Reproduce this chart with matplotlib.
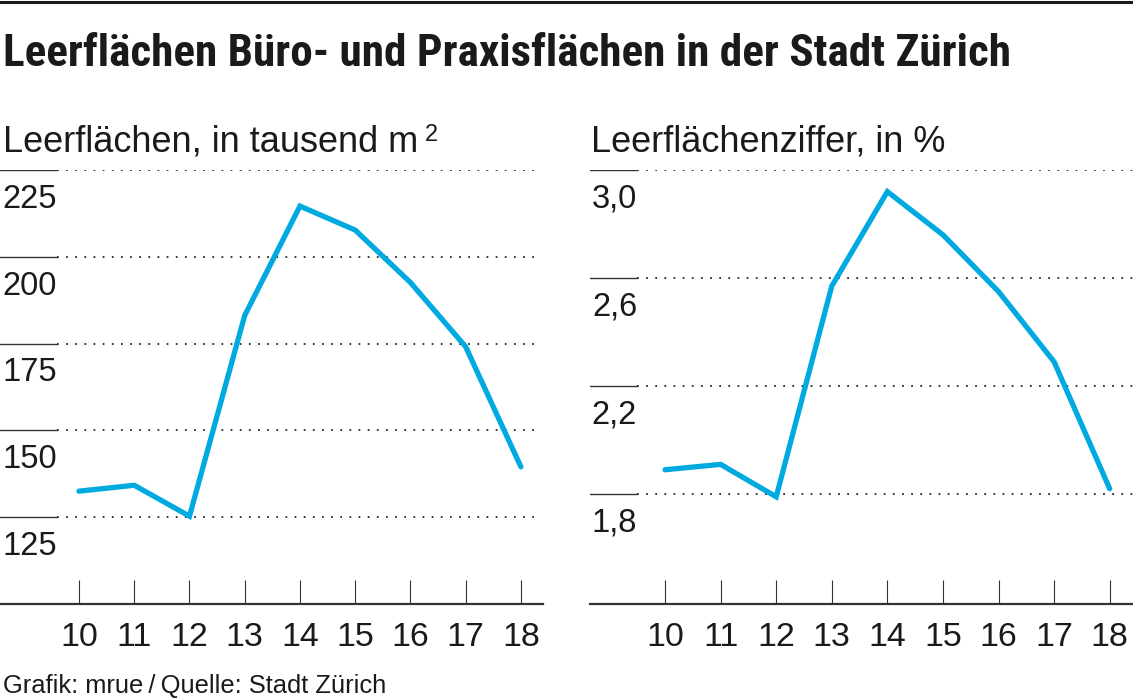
import matplotlib
matplotlib.use('Agg')
import matplotlib.pyplot as plt
from matplotlib import font_manager

# data
years = [2010, 2011, 2012, 2013, 2014, 2015, 2016, 2017, 2018]
year_labels = ['10', '11', '12', '13', '14', '15', '16', '17', '18']
leerflaechen = [132.5, 134.2, 125.3, 183.1, 214.6, 207.7, 192.6, 174.1, 139.5]  # tausend m2
ziffer = [1.89, 1.91, 1.79, 2.57, 2.92, 2.76, 2.55, 2.29, 1.82]  # in %

left_ticks = [225, 200, 175, 150, 125]
left_ticklabels = ['225', '200', '175', '150', '125']
right_ticks = [3.0, 2.6, 2.2, 1.8]
right_ticklabels = ['3,0', '2,6', '2,2', '1,8']

BLUE = '#00A9E0'
INK = '#1a1a1a'

fonts = font_manager.fontManager.ttflist
names = {f.name for f in fonts}
bold_names = {f.name for f in fonts if isinstance(f.weight, int) and f.weight >= 700}
body_font = 'Liberation Sans' if 'Liberation Sans' in names else 'DejaVu Sans'
# condensed bold family for the title, first one that has a real bold face
narrow_pref = ['Liberation Sans Narrow', 'Arial Narrow', 'Nimbus Sans Narrow', 'Archivo Narrow',
               'Roboto Condensed', 'PT Sans Narrow', 'Fira Sans Condensed', 'Barlow Condensed',
               'IBM Plex Sans Condensed', 'Encode Sans Condensed', 'Sofia Sans Condensed',
               'Saira SemiCondensed']
title_font = next((n for n in narrow_pref if n in bold_names), body_font)
plt.rcParams['font.family'] = [body_font, 'DejaVu Sans']

W, H = 1133, 700
fig = plt.figure(figsize=(W / 100, H / 100), dpi=100)


def px_axes(x0, x1, ytop, ybot):
    return fig.add_axes([x0 / W, (H - ybot) / H, (x1 - x0) / W, (ybot - ytop) / H])


def fy(y):
    # pixel row from the top -> figure fraction
    return 1 - y / H


def style_panel(ax, ticks, ticklabels, solid_end, dot_end, xlim, ylim, data):
    ax.set_xlim(*xlim)
    ax.set_ylim(*ylim)
    for s in ['top', 'right', 'left']:
        ax.spines[s].set_visible(False)
    ax.spines['bottom'].set_linewidth(1.6)
    ax.spines['bottom'].set_color('#333333')
    ax.set_yticks([])
    ax.set_xticks(years)
    ax.set_xticklabels(year_labels, fontsize=24.5, color=INK)
    ax.tick_params(axis='x', direction='in', length=17, width=0.8, color='#333333', pad=13)
    for t, lab in zip(ticks, ticklabels):
        ax.axhline(t, xmin=0, xmax=solid_end, color='#333333', lw=1.0)
        ax.axhline(t, xmin=solid_end, xmax=dot_end, color='#333333', lw=1.4,
                   linestyle=(0, (0.9, 3.8)), dash_capstyle='butt')
        ax.annotate(lab, xy=(solid_end, t), xycoords=('axes fraction', 'data'),
                    xytext=(0, -10), textcoords='offset points',
                    ha='right', va='top', fontsize=23.5, color=INK)
    ax.plot(years, data, color=BLUE, lw=3.8, solid_capstyle='round',
            solid_joinstyle='miter', clip_on=False, zorder=5)


ax1 = px_axes(0, 543, 170, 604)
style_panel(ax1, left_ticks, left_ticklabels, 57 / 543, 536 / 543,
            (2008.57, 2018.40), (100, 225), leerflaechen)

ax2 = px_axes(590, 1133, 170, 604)
style_panel(ax2, right_ticks, right_ticklabels, 47 / 543, 1.0,
            (2008.65, 2018.42), (1.393, 3.0), ziffer)

# top rule
fig.add_artist(plt.Line2D([0, 1], [fy(1.5), fy(1.5)], color=INK, lw=2.2,
                          transform=fig.transFigure))

title = fig.text(3 / W, fy(66), 'Leerflächen Büro- und Praxisflächen in der Stadt Zürich',
                 fontsize=36, fontweight='bold', family=[title_font, 'DejaVu Sans'],
                 color=INK, ha='left', va='baseline')
# fit the title to the width it has in the reference
renderer = fig.canvas.get_renderer()
tw = title.get_window_extent(renderer).width
title.set_fontsize(36 * 1007 / tw)

sub1 = fig.text(3 / W, fy(152), 'Leerflächen, in tausend m', fontsize=26, color=INK,
                ha='left', va='baseline')
plt.annotate('2', xy=(1, 1), xycoords=sub1, xytext=(5, 1), textcoords='offset points',
             ha='left', va='top', fontsize=17, color=INK, annotation_clip=False)
fig.text(591 / W, fy(152), 'Leerflächenziffer, in %', fontsize=26, color=INK,
         ha='left', va='baseline')
fig.text(3 / W, fy(693), 'Grafik: mrue\u2009/\u2009Quelle: Stadt Zürich', fontsize=18.4,
         color=INK, ha='left', va='baseline')

fig.savefig('out.png', dpi=100, facecolor='white')
